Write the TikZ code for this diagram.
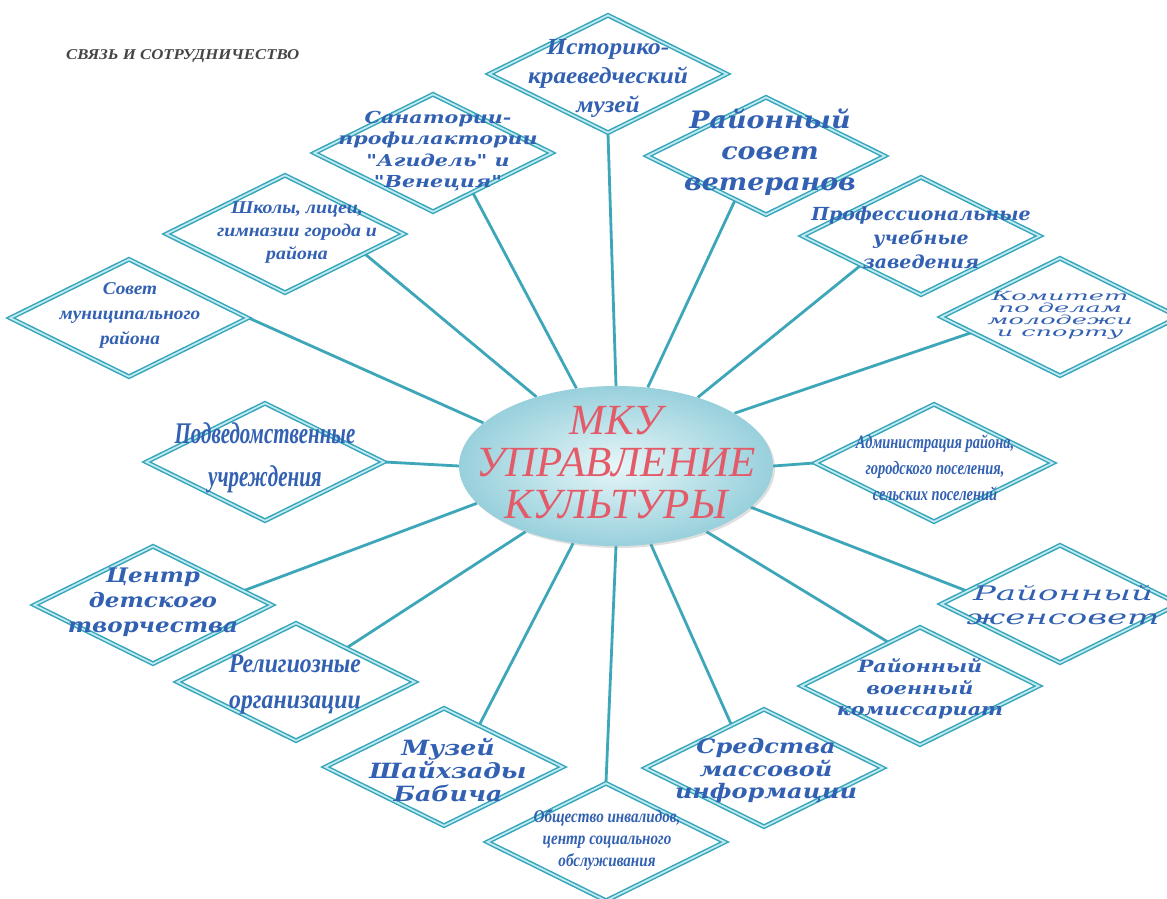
\documentclass[tikz,border=0pt]{standalone}
\usepackage{fontspec}
\setmainfont{Liberation Serif}
\newfontfamily\dvs{DejaVu Serif}
\newfontfamily\lbs{Liberation Serif}
\usetikzlibrary{shapes.geometric,backgrounds,shadows}
\definecolor{tealc}{HTML}{35A6BA}
\definecolor{dblc}{HTML}{C4EAF1}
\definecolor{conncol}{HTML}{3DA7B9}
\definecolor{txtb}{HTML}{3260B2}
\definecolor{ellin}{HTML}{E6F6F8}
\definecolor{ellout}{HTML}{98D0DC}
\definecolor{redt}{HTML}{E35B68}
\definecolor{hdrc}{HTML}{454545}
\newcommand\dfont[4]{#1\fontsize{#2}{#3}\selectfont\addfontfeature{FakeStretch=#4}}
\begin{document}
\begin{tikzpicture}[x=1pt,y=-1pt,
 dia/.style={diamond, draw=tealc, line width=1.5pt, double=dblc, double distance=1.7pt, fill=white, minimum width=238pt, minimum height=118pt, inner sep=0pt},
 lbl/.style={align=center, text=txtb, inner sep=0pt},
 conn/.style={draw=conncol, line width=2.8pt}]
\useasboundingbox (0,0) rectangle (1167,899);
\clip (0,0) rectangle (1167,899);

\node[anchor=west, text=hdrc, inner sep=0pt, font=\dfont{\lbs\bfseries\itshape}{15}{18}{1.12}] (hdr) at (66,56) {СВЯЗЬ И СОТРУДНИЧЕСТВО};

% diamonds
\node[dia] (d1) at (608,74) {};
\node[dia] (d2) at (433,153) {};
\node[dia] (d3) at (766,156) {};
\node[dia] (d4) at (285,234) {};
\node[dia] (d5) at (921,236) {};
\node[dia] (d6) at (129,318) {};
\node[dia] (d7) at (1060,317) {};
\node[dia] (d8) at (265,462) {};
\node[dia] (d9) at (934,463) {};
\node[dia] (d10) at (153,605) {};
\node[dia] (d11) at (1060,604) {};
\node[dia] (d12) at (296,682) {};
\node[dia] (d13) at (920,686) {};
\node[dia] (d14) at (444,767) {};
\node[dia] (d15) at (764,768) {};
\node[dia] (d16) at (606,842) {};

% centre
\node[ellipse, minimum width=314pt, minimum height=160pt, inner sep=0pt, shading=radial, inner color=ellin, outer color=ellout, drop shadow={opacity=0.25, shadow xshift=2pt, shadow yshift=-2pt}] (c) at (616,466) {};
\node[align=center, text=redt, inner sep=0pt, font=\dfont{\lbs\itshape}{43}{42}{1.0}] (ct) at (616,463) {МКУ\\УПРАВЛЕНИЕ\\КУЛЬТУРЫ};

% labels
\node[lbl, font=\dfont{\lbs\bfseries\itshape}{23}{29}{1.1}] (t1) at (608,78) {Историко-\\краеведческий\\музей};
\node[lbl, font=\dfont{\dvs\bfseries\itshape}{16.5}{21.5}{1.25}] (t2) at (438,151) {Санатории-\\профилактории\\"Агидель" и\\"Венеция"};
\node[lbl, font=\dfont{\dvs\bfseries\itshape}{24}{31}{1.12}] (t3) at (770,152) {Районный\\совет\\ветеранов};
\node[lbl, font=\dfont{\lbs\bfseries\itshape}{18}{23}{1.1}] (t4) at (297,233) {Школы, лицеи,\\гимназии города и\\района};
\node[lbl, font=\dfont{\dvs\bfseries\itshape}{18}{24}{1.05}] (t5) at (921,238) {Профессиональные\\учебные\\заведения};
\node[lbl, font=\dfont{\lbs\bfseries\itshape}{18}{25}{1.07}] (t6) at (130,315) {Совет\\муниципального\\района};
\node[lbl, font=\dfont{\dvs\itshape}{12.5}{12}{2.05}] (t7) at (1060,315) {Комитет\\по делам\\молодежи\\и спорту};
\node[lbl, font=\dfont{\lbs\bfseries\itshape}{30}{43}{0.7}] (t8) at (265,458) {Подведомственные\\учреждения};
\node[lbl, font=\dfont{\lbs\bfseries\itshape}{19}{26}{0.76}] (t9) at (935,468) {Администрация района,\\городского поселения,\\сельских поселений};
\node[lbl, font=\dfont{\dvs\bfseries\itshape}{20}{25}{1.15}] (t10) at (153,602) {Центр\\детского\\творчества};
\node[lbl, font=\dfont{\dvs\itshape}{20}{24}{1.7}] (t11) at (1063,605) {Районный\\женсовет};
\node[lbl, font=\dfont{\lbs\bfseries\itshape}{27}{36}{0.88}] (t12) at (295,685) {Религиозные\\организации};
\node[lbl, font=\dfont{\dvs\bfseries\itshape}{17}{21.5}{1.22}] (t13) at (920,689) {Районный\\военный\\комиссариат};
\node[lbl, font=\dfont{\dvs\bfseries\itshape}{21}{23}{1.2}] (t14) at (448,770) {Музей\\Шайхзады\\Бабича};
\node[lbl, font=\dfont{\dvs\bfseries\itshape}{20}{22.5}{1.2}] (t15) at (766,771) {Средства\\массовой\\информации};
\node[lbl, font=\dfont{\lbs\bfseries\itshape}{18}{22}{0.84}] (t16) at (607,840) {Общество инвалидов,\\центр социального\\обслуживания};

\begin{pgfonlayer}{background}
\fill[white] (0,0) rectangle (1167,899);
\draw[conn] (d1.south) -- (c.90);
\draw[conn] (d2.-45) -- (c.117);
\draw[conn] (d3.-125) -- (c.68);
\draw[conn] (d4.-14) -- (c.139);
\draw[conn] (d5.-154) -- (c.40);
\draw[conn] (d7.-170) -- (c.24);
\draw[conn] (d6.east) -- (c.162);
\draw[conn] (d8.east) -- (c.west);
\draw[conn] (d9.west) -- (c.east);
\draw[conn] (d10.9) -- (c.195);
\draw[conn] (d12.34) -- (c.216);
\draw[conn] (d14.50) -- (c.241);
\draw[conn] (d16.north) -- (c.south);
\draw[conn] (d15.127) -- (c.-66);
\draw[conn] (d13.126) -- (c.-36);
\draw[conn] (d11.172) -- (c.-17);
\end{pgfonlayer}
\end{tikzpicture}
\end{document}
